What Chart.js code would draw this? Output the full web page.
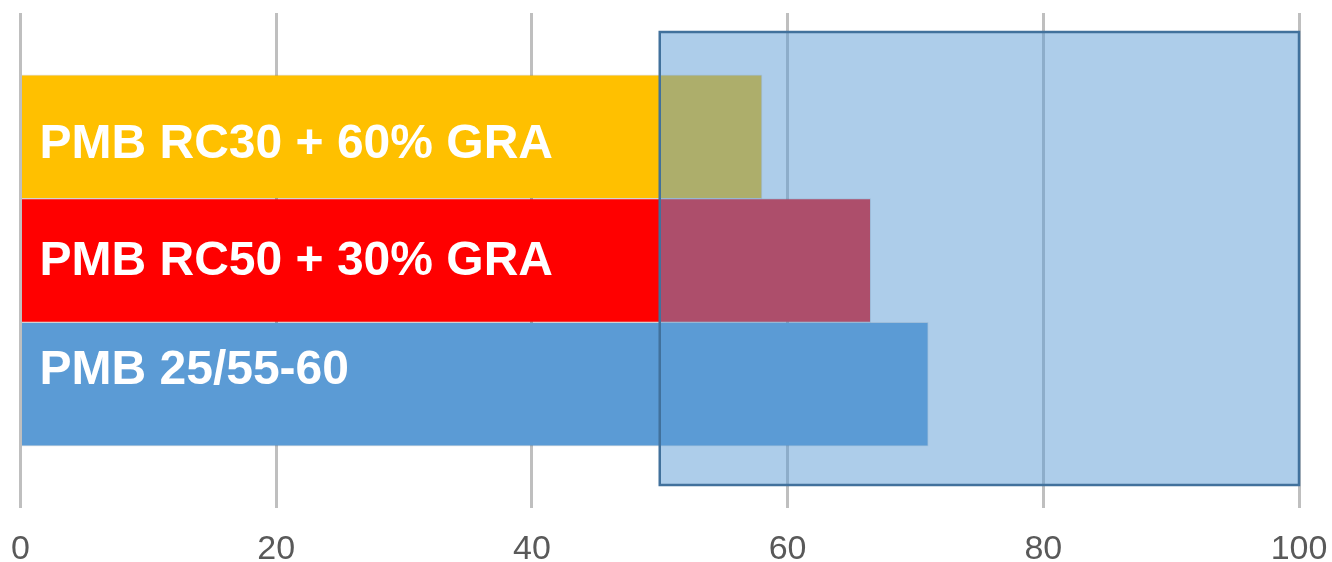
<!DOCTYPE html>
<html>
<head>
<meta charset="utf-8">
<script src="https://cdn.jsdelivr.net/npm/chart.js@4"></script>
<style>
  html, body { margin: 0; padding: 0; background: #ffffff; }
  #wrap { width: 1332px; height: 562px; position: relative; }
</style>
</head>
<body>
<div id="wrap"><canvas id="chart"></canvas></div>
<script>
// Binder variants and their measured values
const categories = ['PMB RC30 + 60% GRA', 'PMB RC50 + 30% GRA', 'PMB 25/55-60'];
const values = [58, 66.5, 71];
const barColors = ['#FFC000', '#FF0000', '#5B9BD5'];
const xTicks = [0, 20, 40, 60, 80, 100];
// shaded requirement band on the value axis
const targetRange = [50, 100];

// empty slots above and below the three bars leave half a bar of space at each end
const slotLabels = [''].concat(categories, ['']);
const slotValues = [null].concat(values, [null]);
const slotColors = ['rgba(0,0,0,0)'].concat(barColors, ['rgba(0,0,0,0)']);

// translucent band drawn over the bars
const rangeBox = {
  id: 'rangeBox',
  afterDatasetsDraw(chart, args, opts) {
    const { ctx, chartArea, scales } = chart;
    const x0 = scales.x.getPixelForValue(targetRange[0]);
    const x1 = scales.x.getPixelForValue(targetRange[1]);
    const y0 = chartArea.top + opts.insetTop;
    const y1 = chartArea.bottom - opts.insetBottom;
    ctx.save();
    ctx.fillStyle = opts.fill;
    ctx.fillRect(x0, y0, x1 - x0, y1 - y0);
    ctx.strokeStyle = opts.stroke;
    ctx.lineWidth = opts.lineWidth;
    ctx.strokeRect(x0, y0, x1 - x0, y1 - y0);
    ctx.restore();
  }
};

// category names written inside each bar
const barLabels = {
  id: 'barLabels',
  afterDatasetsDraw(chart, args, opts) {
    const { ctx, chartArea } = chart;
    const meta = chart.getDatasetMeta(0);
    ctx.save();
    ctx.font = opts.font;
    ctx.fillStyle = opts.color;
    ctx.textAlign = 'left';
    ctx.textBaseline = 'middle';
    categories.forEach((name, i) => {
      const bar = meta.data[i + 1];
      ctx.fillText(name, chartArea.left + opts.padLeft, bar.y + opts.nudge[i]);
    });
    ctx.restore();
  }
};

new Chart(document.getElementById('chart'), {
  type: 'bar',
  data: {
    labels: slotLabels,
    datasets: [{
      data: slotValues,
      backgroundColor: slotColors,
      borderColor: 'rgba(0,0,0,0.12)',
      borderWidth: 1,
      barPercentage: 1,
      categoryPercentage: 1
    }]
  },
  options: {
    indexAxis: 'y',
    responsive: true,
    maintainAspectRatio: false,
    animation: false,
    devicePixelRatio: 1,
    layout: { padding: { top: 13, left: 20.5, right: 33, bottom: 0 } },
    scales: {
      x: {
        type: 'linear',
        min: 0,
        max: 100,
        afterBuildTicks(scale) { scale.ticks = xTicks.map(v => ({ value: v })); },
        afterFit(scale) {
          scale.paddingLeft = 0;
          scale.paddingRight = 0;
          scale.height = 54;
        },
        grid: { color: '#BFBFBF', lineWidth: 3, drawTicks: false },
        border: { display: false },
        ticks: {
          color: '#595959',
          padding: 21,
          font: { family: '"Liberation Sans", Arial, sans-serif', size: 34 }
        }
      },
      y: {
        type: 'category',
        display: false,
        offset: false,
        grid: { display: false }
      }
    },
    plugins: {
      legend: { display: false },
      tooltip: { enabled: false },
      rangeBox: {
        insetTop: 19,
        insetBottom: 23,
        fill: 'rgba(91,155,213,0.5)',
        stroke: '#41719C',
        lineWidth: 2.5
      },
      barLabels: {
        font: 'bold 48px "Liberation Sans", Arial, sans-serif',
        color: '#FFFFFF',
        padLeft: 19,
        nudge: [8, 1, -13]
      }
    }
  },
  plugins: [rangeBox, barLabels]
});
</script>
</body>
</html>
